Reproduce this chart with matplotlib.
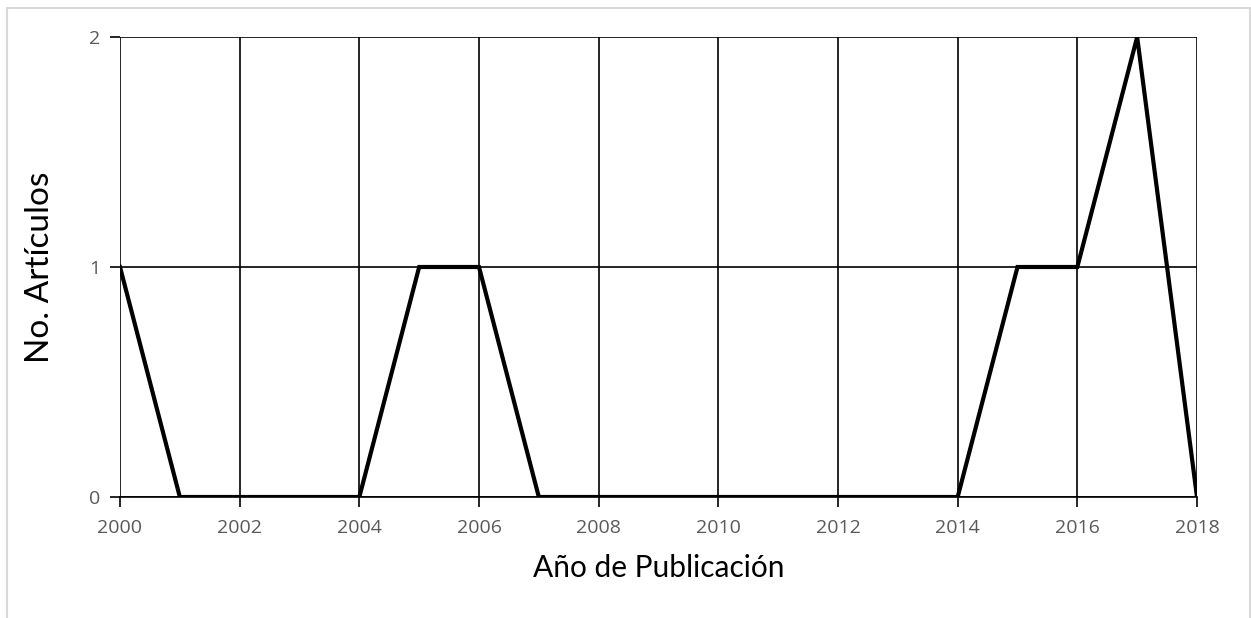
import matplotlib.pyplot as plt
from matplotlib.patches import Rectangle

years = list(range(2000, 2019))
articles = [1, 0, 0, 0, 0, 1, 1, 0, 0, 0, 0, 0, 0, 0, 0, 1, 1, 2, 0]
x_ticks = list(range(2000, 2019, 2))
y_ticks = [0, 1, 2]

fig = plt.figure(figsize=(12.51, 6.18), dpi=100)
ax = fig.add_axes([120 / 1251, 1 - 497 / 618, (1197 - 120) / 1251, (497 - 37) / 618])

# light gray chart border
fig.patches.append(Rectangle((7 / 1251, -0.05), (1250 - 7) / 1251, 1 - 8 / 618 + 0.05,
                             transform=fig.transFigure, fill=False,
                             edgecolor='#d9d9d9', linewidth=1.5))

ax.plot(years, articles, color='black', linewidth=3.0, solid_joinstyle='miter', zorder=3)

ax.set_xlim(2000, 2018)
ax.set_ylim(0, 2)
ax.set_xticks(x_ticks)
ax.set_yticks(y_ticks)
ax.grid(True, color='black', linewidth=1.2)
ax.set_axisbelow(True)

for s in ['top', 'right', 'left']:
    ax.spines[s].set_visible(False)
ax.spines['bottom'].set_color('black')
ax.spines['bottom'].set_linewidth(1.2)

ax.tick_params(axis='x', length=7, width=1.2, color='black', labelsize=14,
               labelcolor='#595959', pad=9)
ax.tick_params(axis='y', length=7, width=1.2, color='black', labelsize=14,
               labelcolor='#595959', pad=7)
for lab in ax.get_xticklabels() + ax.get_yticklabels():
    lab.set_family(['Open Sans', 'DejaVu Sans'])

ax.set_xlabel('Año de Publicación', fontsize=21.5, family=['Lato', 'DejaVu Sans'], labelpad=12)
ax.set_ylabel('No. Artículos', fontsize=24, family=['Lato', 'DejaVu Sans'], labelpad=25)

plt.savefig('out.png', dpi=100)
